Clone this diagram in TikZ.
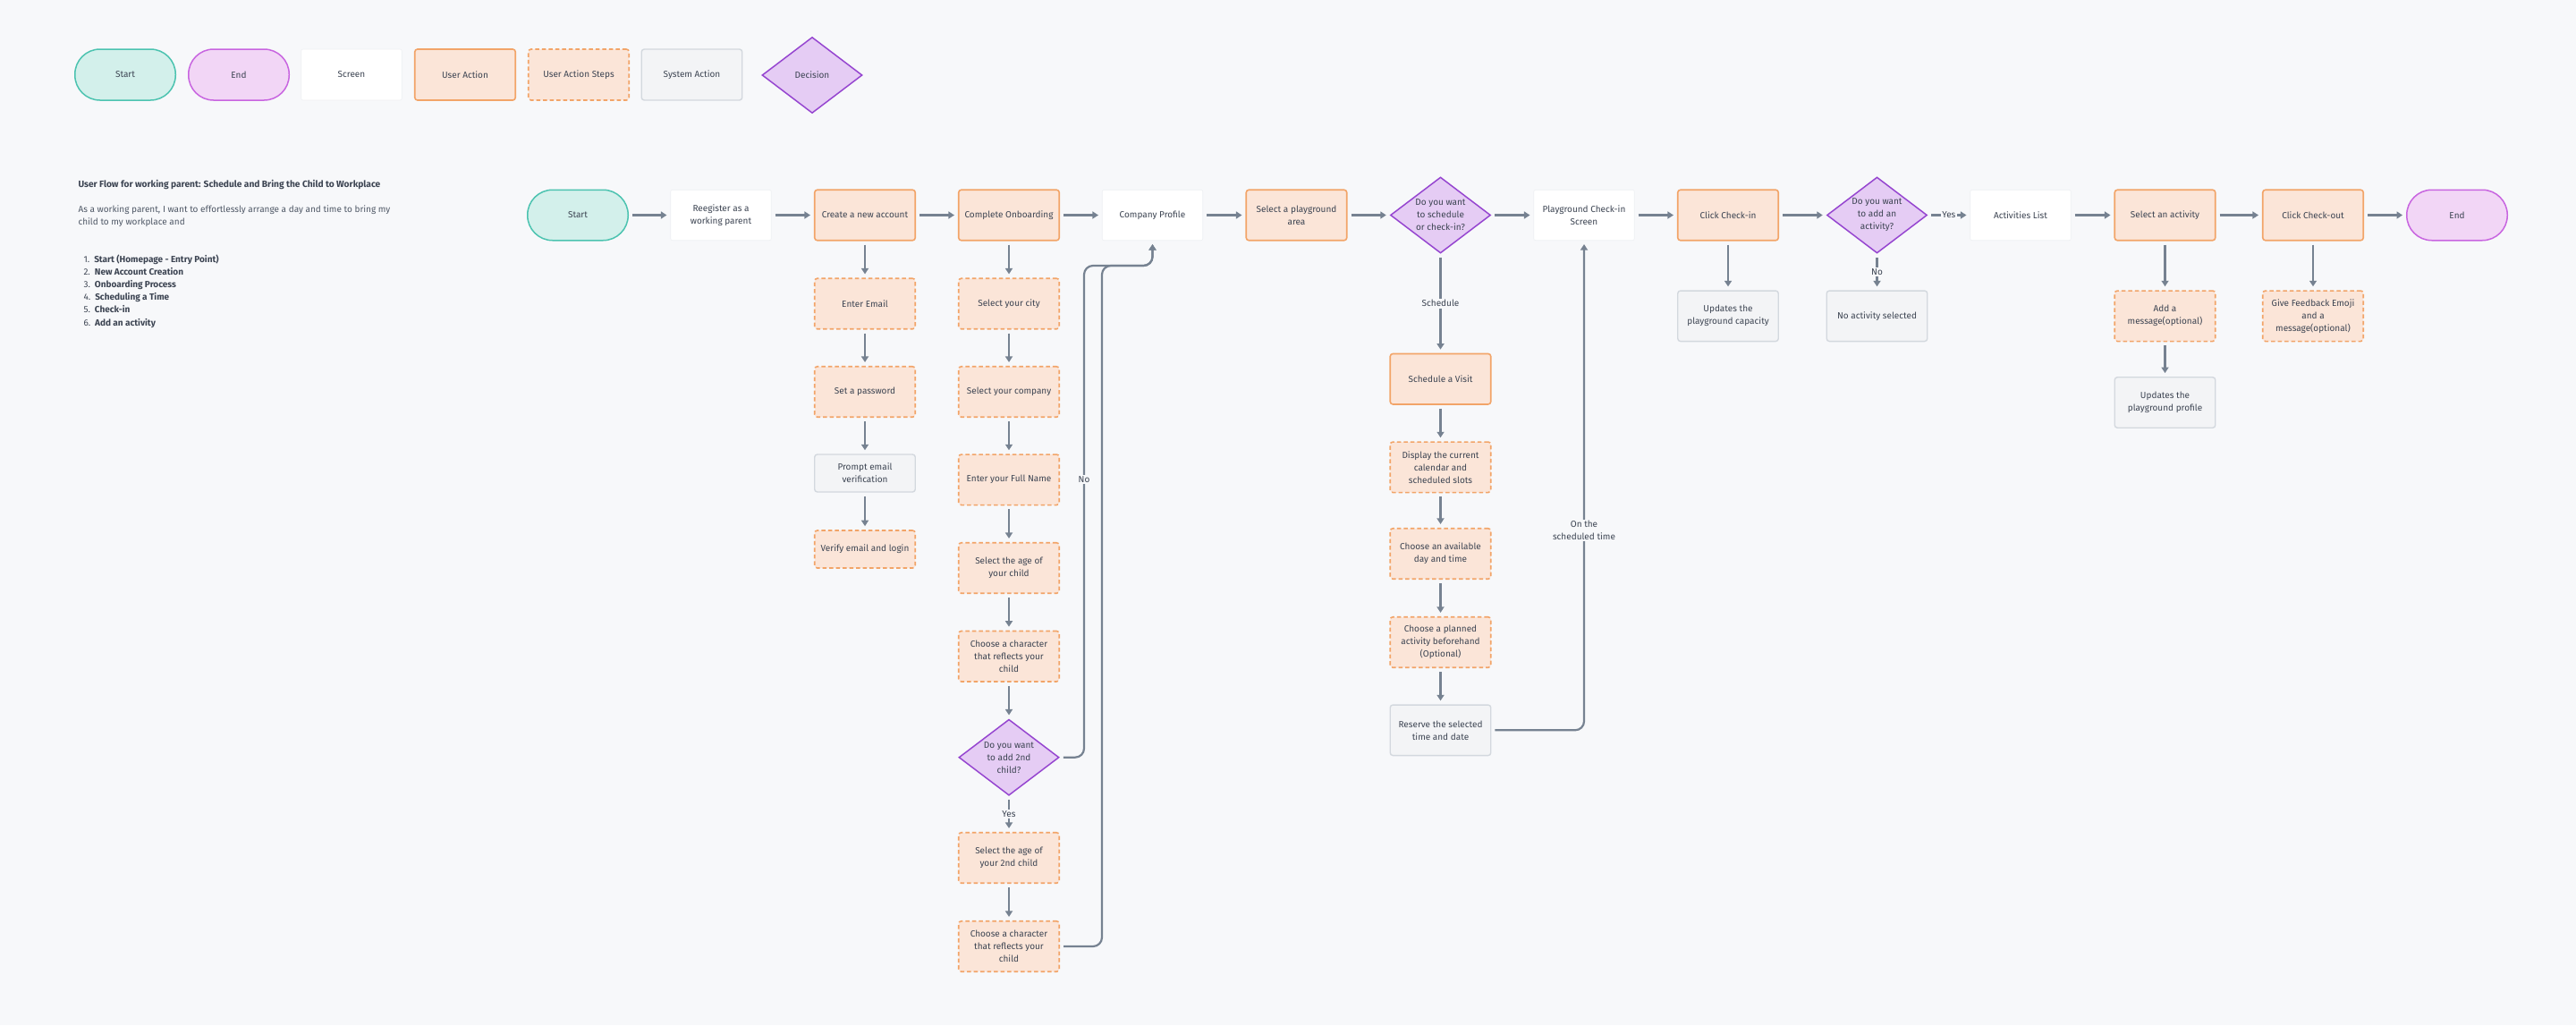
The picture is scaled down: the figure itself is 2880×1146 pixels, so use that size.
\documentclass[tikz,border=0pt]{standalone}
\usepackage{fontspec}
\setmainfont{Fira Sans}
\usetikzlibrary{shapes.geometric,arrows.meta}
\definecolor{bgc}{HTML}{F7F8FA}
\definecolor{startf}{HTML}{D3F0EB}
\definecolor{startd}{HTML}{4CC3B0}
\definecolor{endf}{HTML}{F2D6F6}
\definecolor{endd}{HTML}{C865E0}
\definecolor{uaf}{HTML}{FBE5D8}
\definecolor{uad}{HTML}{F2A468}
\definecolor{sysf}{HTML}{F3F4F6}
\definecolor{sysd}{HTML}{D3D8DE}
\definecolor{decf}{HTML}{E5CCF4}
\definecolor{decd}{HTML}{9646D0}
\definecolor{screend}{HTML}{EEF0F3}
\definecolor{linec}{HTML}{768291}
\definecolor{textc}{HTML}{3C4452}
\definecolor{textl}{HTML}{4F5866}
\begin{document}
\begin{tikzpicture}[x=1pt,y=-1pt,
  every node/.style={font=\fontsize{10}{14}\selectfont, text=textc},
  base/.style={minimum width=112.5pt, minimum height=56.5pt, align=center, inner sep=2pt},
  startbox/.style={base, draw=startd, fill=startf, line width=1.5pt, rounded corners=28pt},
  endbox/.style={base, draw=endd, fill=endf, line width=1.5pt, rounded corners=28pt},
  screenbox/.style={base, fill=white, draw=screend, line width=0.6pt, rounded corners=2pt},
  uabox/.style={base, fill=uaf, draw=uad, line width=1.6pt, rounded corners=3pt},
  uasbox/.style={base, fill=uaf, draw=uad, line width=1.6pt, dash pattern=on 4.5pt off 3pt, rounded corners=3pt},
  sysbox/.style={base, fill=sysf, draw=sysd, line width=1.4pt, rounded corners=3pt},
  decbox/.style={diamond, aspect=1.32, minimum width=112pt, minimum height=85pt, inner sep=0pt, fill=decf, draw=decd, line width=1.5pt, align=center},
  arr/.style={draw=linec, line width=2.2pt, -{Triangle[length=6.5pt,width=8pt]}, shorten <=4pt, shorten >=4pt},
  lbl/.style={fill=bgc, inner sep=1.5pt, align=center},
  small/.style={font=\fontsize{10}{14.2}\selectfont}
]
\useasboundingbox (0,0) rectangle (2880,1146);
\fill[bgc] (0,0) rectangle (2880,1146);

% Legend
\node[startbox, minimum height=57pt] (lgStart) at (140,83.5) {Start};
\node[endbox, minimum height=57pt] (lgEnd) at (267,83.5) {End};
\node[screenbox, minimum height=57pt] (lgScreen) at (393,83.5) {Screen};
\node[uabox, minimum height=57pt] (lgUA) at (520,83.5) {User Action};
\node[uasbox, minimum height=57pt] (lgUAS) at (647,83.5) {User Action Steps};
\node[sysbox, minimum height=57pt] (lgSys) at (773.5,83.5) {System Action};
\node[decbox] (lgDec) at (908,84) {Decision};

% Description
\node[anchor=west, font=\fontsize{10.2}{14.2}\selectfont\bfseries] (title) at (84,206) {User Flow for working parent: Schedule and Bring the Child to Workplace};
\node[anchor=west, align=left, small, text=textl] (para) at (84,241.3) {As a working parent, I want to effortlessly arrange a day and time to bring my\\child to my workplace and};
\node[anchor=west, align=left, small] (list) at (90,325.4) {1.\hspace{5pt}\textbf{Start (Homepage - Entry Point)}\\2.\hspace{5pt}\textbf{New Account Creation}\\3.\hspace{5pt}\textbf{Onboarding Process}\\4.\hspace{5pt}\textbf{Scheduling a Time}\\5.\hspace{5pt}\textbf{Check-in}\\6.\hspace{5pt}\textbf{Add an activity}};

% Main row
\node[startbox] (start) at (646,240.5) {Start};
\node[screenbox] (register) at (806,240.5) {Reegister as a\\working parent};
\node[uabox] (create) at (967,240.5) {Create a new account};
\node[uabox] (onboard) at (1128,240.5) {Complete Onboarding};
\node[screenbox] (company) at (1288.5,240.5) {Company Profile};
\node[uabox] (selarea) at (1449.5,240.5) {Select a playground\\area};
\node[decbox] (dec1) at (1610.5,240.5) {Do you want\\to schedule\\or check-in?};
\node[screenbox] (checkscreen) at (1771,240.5) {Playground Check-in\\Screen};
\node[uabox] (clickin) at (1932,240.5) {Click Check-in};
\node[decbox] (dec2) at (2098.5,240.5) {Do you want\\to add an\\activity?};
\node[screenbox] (actlist) at (2259,240.5) {Activities List};
\node[uabox] (selact) at (2420.5,240.5) {Select an activity};
\node[uabox] (checkout) at (2586,240.5) {Click Check-out};
\node[endbox] (end) at (2747,240.5) {End};

% Account column
\node[uasbox] (email) at (967,339.5) {Enter Email};
\node[uasbox] (password) at (967,438) {Set a password};
\node[sysbox, minimum height=42pt] (prompt) at (967,529) {Prompt email\\verification};
\node[uasbox, minimum height=42pt] (verify) at (967,614) {Verify email and login};

% Onboarding column
\node[uasbox] (city) at (1128,339.5) {Select your city};
\node[uasbox] (selcompany) at (1128,438) {Select your company};
\node[uasbox] (fullname) at (1128,536.3) {Enter your Full Name};
\node[uasbox] (age) at (1128,635) {Select the age of\\your child};
\node[uasbox] (char1) at (1128,733.7) {Choose a character\\that reflects your\\child};
\node[decbox] (dec3) at (1128,846.7) {Do you want\\to add 2nd\\child?};
\node[uasbox] (age2) at (1128,959) {Select the age of\\your 2nd child};
\node[uasbox] (char2) at (1128,1058) {Choose a character\\that reflects your\\child};

% Schedule column
\node[uabox] (visit) at (1610.5,423.7) {Schedule a Visit};
\node[uasbox] (display) at (1610.5,522.3) {Display the current\\calendar and\\scheduled slots};
\node[uasbox] (avail) at (1610.5,619) {Choose an available\\day and time};
\node[uasbox] (planned) at (1610.5,718) {Choose a planned\\activity beforehand\\(Optional)};
\node[sysbox] (reserve) at (1610.5,816.3) {Reserve the selected\\time and date};

% Check-in side
\node[sysbox] (capacity) at (1932,353.3) {Updates the\\playground capacity};
\node[sysbox] (noact) at (2098.5,353.3) {No activity selected};
\node[uasbox] (addmsg) at (2420.5,353.3) {Add a\\message(optional)};
\node[sysbox] (profile) at (2420.5,450) {Updates the\\playground profile};
\node[uasbox] (feedback) at (2586,353.3) {Give Feedback Emoji\\and a\\message(optional)};

% Bend coordinates
\coordinate (noA) at (1212,297);
\coordinate (noB) at (1232,297);

% Connectors main row
\draw[arr] (start) -- (register);
\draw[arr] (register) -- (create);
\draw[arr] (create) -- (onboard);
\draw[arr] (onboard) -- (company);
\draw[arr] (company) -- (selarea);
\draw[arr] (selarea) -- (dec1);
\draw[arr] (dec1) -- (checkscreen);
\draw[arr] (checkscreen) -- (clickin);
\draw[arr] (clickin) -- (dec2);
\draw[arr] (dec2) -- node[lbl] (lblYes2) {Yes} (actlist);
\draw[arr] (actlist) -- (selact);
\draw[arr] (selact) -- (checkout);
\draw[arr] (checkout) -- (end);

% Account column connectors
\draw[arr] (create) -- (email);
\draw[arr] (email) -- (password);
\draw[arr] (password) -- (prompt);
\draw[arr] (prompt) -- (verify);

% Onboarding connectors
\draw[arr] (onboard) -- (city);
\draw[arr] (city) -- (selcompany);
\draw[arr] (selcompany) -- (fullname);
\draw[arr] (fullname) -- (age);
\draw[arr] (age) -- (char1);
\draw[arr] (char1) -- (dec3);
\draw[arr] (dec3) -- node[lbl] (lblYes3) {Yes} (age2);
\draw[arr] (age2) -- (char2);
\draw[arr, rounded corners=10pt] (dec3.east) -| (noA) -| (company.south);
\draw[arr, rounded corners=10pt] (char2.east) -| (noB) -| (company.south);
\node[lbl] (lblNo3) at (1212,536) {No};

% Schedule connectors
\draw[arr] (dec1) -- node[lbl] (lblSched) {Schedule} (visit);
\draw[arr] (visit) -- (display);
\draw[arr] (display) -- (avail);
\draw[arr] (avail) -- (planned);
\draw[arr] (planned) -- (reserve);
\draw[arr, rounded corners=10pt] (reserve.east) -| (checkscreen.south);
\node[lbl] (lblOn) at (1771,593) {On the\\scheduled time};

% Check-in side connectors
\draw[arr] (clickin) -- (capacity);
\draw[arr] (dec2) -- node[lbl] (lblNo2) {No} (noact);
\draw[arr] (selact) -- (addmsg);
\draw[arr] (addmsg) -- (profile);
\draw[arr] (checkout) -- (feedback);
\end{tikzpicture}
\end{document}
